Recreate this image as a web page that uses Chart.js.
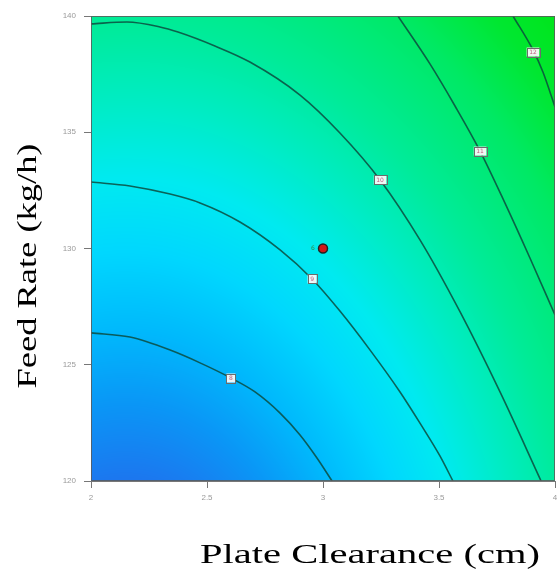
<!DOCTYPE html>
<html>
<head>
<meta charset="utf-8">
<script src="https://cdn.jsdelivr.net/npm/chart.js@4.4.1/dist/chart.umd.min.js"></script>
<style>
  html, body { margin: 0; padding: 0; background: #fff; }
  canvas { display: block; }
</style>
</head>
<body>
<canvas id="contour" width="557" height="575"></canvas>
<script>
// axis ticks
const xTicks = [2, 2.5, 3, 3.5, 4];
const yTicks = [120, 125, 130, 135, 140];

// contour lines (plate clearance, feed rate)
const c1x = [2.000, 2.168, 2.341, 2.470, 2.603, 2.707, 2.815, 2.901, 2.974, 3.039];
const c1y = [126.37, 126.19, 125.63, 125.08, 124.43, 123.83, 122.92, 121.98, 120.99, 120.0];
const c2x = [2.000, 2.168, 2.341, 2.470, 2.642, 2.815, 2.953, 3.073, 3.203, 3.332, 3.418, 3.504, 3.560];
const c2y = [132.86, 132.69, 132.34, 131.96, 131.14, 129.94, 128.69, 127.31, 125.63, 123.83, 122.49, 121.08, 120.0];
const c3x = [2.000, 2.155, 2.297, 2.375, 2.534, 2.685, 2.901, 3.073, 3.246, 3.418, 3.591, 3.763, 3.940];
const c3y = [139.66, 139.74, 139.53, 139.31, 138.71, 138.02, 136.60, 134.97, 132.95, 130.37, 127.27, 123.83, 120.0];
const c4x = [3.323, 3.461, 3.569, 3.677, 3.784, 3.892, 4.000];
const c4y = [140.0, 137.94, 136.13, 134.19, 131.96, 129.59, 127.14];
const c5x = [3.819, 3.905, 3.948, 4.000];
const c5y = [140.0, 138.54, 137.59, 136.09];

// contour level labels
const levelText = ["8", "9", "10", "11", "12"];
const levelX = [2.603, 2.953, 3.246, 3.677, 3.905];
const levelY = [124.43, 128.69, 132.95, 134.19, 138.45];

// design point
const designX = [3.0];
const designY = [130.0];
const designRuns = ["6"];

const toPts = (xs, ys) => xs.map((x, i) => ({ x: x, y: ys[i] }));

// colour ramp for the shaded surface (elliptic distance -> rgb)
const rampAt = [0.60, 0.85, 1.07, 1.30, 1.52, 1.75, 1.98, 2.32, 2.55, 2.80];
const rampRgb = [
  [30, 115, 238], [10, 150, 246], [0, 185, 252], [0, 215, 254], [0, 234, 240],
  [0, 236, 195], [0, 235, 152], [0, 233, 100], [0, 231, 48], [0, 228, 18]
];

function rampColor(r) {
  if (r <= rampAt[0]) return rampRgb[0];
  for (let i = 1; i < rampAt.length; i++) {
    if (r <= rampAt[i]) {
      const t = (r - rampAt[i - 1]) / (rampAt[i] - rampAt[i - 1]);
      const a = rampRgb[i - 1], b = rampRgb[i];
      return [a[0] + (b[0] - a[0]) * t, a[1] + (b[1] - a[1]) * t, a[2] + (b[2] - a[2]) * t];
    }
  }
  return rampRgb[rampRgb.length - 1];
}

const surfacePlugin = {
  id: "surface",
  beforeDatasetsDraw(chart) {
    const { ctx, chartArea: a, scales } = chart;
    const x0 = Math.round(a.left), y0 = Math.round(a.top);
    const w = Math.round(a.right) - x0, h = Math.round(a.bottom) - y0;
    const img = ctx.createImageData(w, h);
    for (let j = 0; j < h; j++) {
      const fy = scales.y.getValueForPixel(y0 + j + 0.5);
      for (let i = 0; i < w; i++) {
        const fx = scales.x.getValueForPixel(x0 + i + 0.5);
        const dx = fx - 2.15, dy = (fy - 111) / 14.5;
        const col = rampColor(Math.sqrt(dx * dx + dy * dy));
        const k = (j * w + i) * 4;
        img.data[k] = col[0]; img.data[k + 1] = col[1]; img.data[k + 2] = col[2]; img.data[k + 3] = 255;
      }
    }
    ctx.putImageData(img, x0, y0);
  },
  afterDatasetsDraw(chart) {
    const { ctx, chartArea: a, scales } = chart;
    ctx.save();

    // level label boxes
    ctx.font = "6px 'DejaVu Sans'";
    ctx.textAlign = "center";
    ctx.textBaseline = "middle";
    levelText.forEach((t, i) => {
      const px = scales.x.getPixelForValue(levelX[i]);
      const py = scales.y.getPixelForValue(levelY[i]);
      const bw = Math.max(9, ctx.measureText(t).width + 5), bh = 9;
      ctx.fillStyle = "rgba(250,250,250,0.95)";
      ctx.fillRect(px - bw / 2, py - bh / 2, bw, bh);
      ctx.strokeStyle = "#6b6b6b";
      ctx.lineWidth = 1;
      ctx.strokeRect(Math.round(px - bw / 2) + 0.5, Math.round(py - bh / 2) + 0.5, Math.round(bw), bh);
      ctx.fillStyle = "#c06080";
      ctx.fillText(t, px, py + 0.5);
    });

    // run count next to the design point
    ctx.fillStyle = "#2c8a4a";
    designRuns.forEach((t, i) => {
      ctx.fillText(t, scales.x.getPixelForValue(designX[i]) - 10, scales.y.getPixelForValue(designY[i]));
    });

    // frame
    ctx.strokeStyle = "rgba(90,90,90,0.85)";
    ctx.lineWidth = 1;
    ctx.strokeRect(Math.round(a.left) + 0.5, Math.round(a.top) + 0.5,
      Math.round(a.right - a.left) - 1, Math.round(a.bottom - a.top) - 1);

    // axis titles
    ctx.fillStyle = "#000";
    ctx.font = "28px 'Liberation Serif'";
    ctx.textAlign = "center";
    ctx.textBaseline = "alphabetic";
    const xt = "Plate Clearance (cm)";
    ctx.save();
    ctx.translate(370, 563);
    ctx.scale(340 / ctx.measureText(xt).width, 1);
    ctx.fillText(xt, 0, 0);
    ctx.restore();

    const yt = "Feed Rate (kg/h)";
    ctx.save();
    ctx.translate(36, 266);
    ctx.rotate(-Math.PI / 2);
    ctx.scale(245 / ctx.measureText(yt).width, 1);
    ctx.fillText(yt, 0, 0);
    ctx.restore();

    ctx.restore();
  }
};

const lineStyle = {
  type: "scatter",
  showLine: true,
  borderColor: "rgba(12,75,62,0.85)",
  borderWidth: 1.6,
  pointRadius: 0,
  cubicInterpolationMode: "monotone",
  fill: false
};

new Chart(document.getElementById("contour"), {
  type: "scatter",
  data: {
    datasets: [
      { ...lineStyle, data: toPts(c1x, c1y) },
      { ...lineStyle, data: toPts(c2x, c2y) },
      { ...lineStyle, data: toPts(c3x, c3y) },
      { ...lineStyle, data: toPts(c4x, c4y) },
      { ...lineStyle, data: toPts(c5x, c5y) },
      {
        data: toPts(designX, designY),
        pointRadius: 4.5,
        backgroundColor: "#d01818",
        borderColor: "#222",
        borderWidth: 1.5
      }
    ]
  },
  options: {
    responsive: false,
    animation: false,
    devicePixelRatio: 1,
    layout: { autoPadding: false, padding: { top: 16, right: 2, left: 0, bottom: 0 } },
    plugins: { legend: { display: false }, tooltip: { enabled: false } },
    scales: {
      x: {
        type: "linear",
        min: 2, max: 4,
        afterBuildTicks: s => { s.ticks = xTicks.map(v => ({ value: v })); },
        afterFit: s => { s.height = 94; s.paddingLeft = 0; s.paddingRight = 0; },
        ticks: { color: "#9a9a9a", font: { size: 8, family: "'Liberation Sans'" }, padding: 5, callback: v => String(v) },
        grid: { drawOnChartArea: false, tickLength: 7, color: "#777" },
        border: { display: true, color: "#777" }
      },
      y: {
        type: "linear",
        min: 120, max: 140,
        afterBuildTicks: s => { s.ticks = yTicks.map(v => ({ value: v })); },
        afterFit: s => { s.width = 91; s.paddingTop = 0; s.paddingBottom = 0; },
        ticks: { color: "#9a9a9a", font: { size: 8, family: "'Liberation Sans'" }, padding: 8, callback: v => String(v) },
        grid: { drawOnChartArea: false, tickLength: 7, color: "#777" },
        border: { display: true, color: "#777" }
      }
    }
  },
  plugins: [surfacePlugin]
});
</script>
</body>
</html>
